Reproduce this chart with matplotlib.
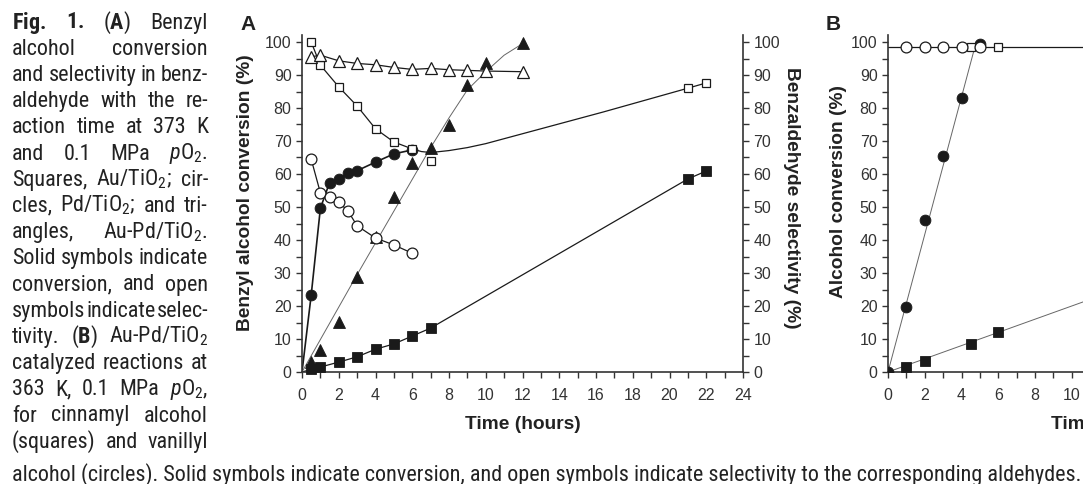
import matplotlib
matplotlib.use('Agg')
import matplotlib.pyplot as plt
from matplotlib import font_manager as fm
from matplotlib.ticker import MultipleLocator

# --- Painel A: álcool benzílico a 373 K ---
# Au/TiO2 (quadrados)
au_t = [0, 0.5, 1, 2, 3, 4, 5, 6, 7, 21, 22]
au_conv = [0, 0.8, 1.5, 3.0, 4.6, 6.9, 8.5, 10.9, 13.3, 58.5, 60.9]
au_sel_t = [0.5, 1, 2, 3, 4, 5, 6, 7, 21, 22]
au_sel = [100, 93, 86.4, 80.6, 73.7, 69.7, 67.6, 64.0, 86.0, 87.6]
# linha de tendência da seletividade Au
au_fit_t = [0.5, 1, 2, 3, 4, 5, 6, 6.5, 7, 8, 9, 10, 12, 16.4, 21, 22]
au_fit = [100, 93, 86.4, 80.6, 73.7, 69.7, 67.6, 66.8, 66.5, 67.1, 68.0, 69.2, 72.2, 78.8, 86.0, 87.6]

# Pd/TiO2 (círculos)
pd_t = [0, 0.5, 1, 1.5, 2, 2.5, 3, 4, 5, 6]
pd_conv = [0, 23.3, 49.6, 57.4, 58.5, 60.2, 61.0, 63.6, 66.1, 67.3]
pd_sel_t = [0.5, 1, 1.5, 2, 2.5, 3, 4, 5, 6]
pd_sel = [64.5, 54.3, 53.0, 51.5, 48.8, 44.3, 40.6, 38.5, 36.0]

# Au-Pd/TiO2 (triângulos)
aupd_t = [0.5, 1, 2, 3, 4, 5, 6, 7, 8, 9, 10, 12]
aupd_conv = [3.0, 6.7, 15.2, 28.8, 41.0, 53.0, 63.3, 67.8, 74.8, 87.0, 93.5, 99.8]
aupd_sel = [95.5, 96.0, 94.3, 93.5, 93.1, 92.3, 91.7, 92.0, 91.6, 91.4, 91.2, 91.0]
aupd_fit_t = [0, 3, 7, 8, 9, 10, 11, 12]
aupd_fit = [0, 29.5, 68, 77, 85.5, 91, 96, 99.5]

# --- Painel B: Au-Pd/TiO2 a 363 K ---
cin_t = [1, 2, 4.5, 6]
cin_conv = [1.5, 3.3, 8.4, 12.0]
cin_sel_t = [4.5, 6]
cin_sel = [98.5, 98.5]
cin_fit_t = [0, 12]
cin_fit = [0, 24]
van_t = [0, 1, 2, 3, 4, 5]
van_conv = [0, 19.7, 46.0, 65.4, 83.0, 99.4]
van_sel_t = [1, 2, 3, 4, 5]
van_sel = [98.5, 98.5, 98.5, 98.5, 98.5]
van_fit_t = [0, 4.8]
van_fit = [0, 100]
sel_fit_t = [0, 24]
sel_fit = [98.5, 98.5]

# --- Legenda (texto da figura) ---
col_lines = [
    [r'$\mathbf{Fig.}$', r'$\mathbf{1.}$', r'($\mathbf{A}$)', 'Benzyl'],
    'alcohol conversion',
    'and selectivity in benz-',
    'aldehyde with the re-',
    'action time at 373 K',
    r'and 0.1 MPa $\mathit{p}$O$_2$.',
    r'Squares, Au/TiO$_2$; cir-',
    r'cles, Pd/TiO$_2$; and tri-',
    r'angles, Au-Pd/TiO$_2$.',
    'Solid symbols indicate',
    'conversion, and open',
    'symbols indicate selec-',
    r'tivity. ($\mathbf{B}$) Au-Pd/TiO$_2$',
    'catalyzed reactions at',
    r'363 K, 0.1 MPa $\mathit{p}$O$_2$,',
    'for cinnamyl alcohol',
    '(squares) and vanillyl',
]
last_line = ('alcohol (circles). Solid symbols indicate conversion, and open '
             'symbols indicate selectivity to the corresponding aldehydes.')


def has_font(name):
    try:
        fm.findfont(fm.FontProperties(family=name), fallback_to_default=False)
        return True
    except Exception:
        return False


def pick(names):
    for n in names:
        if has_font(n):
            return n
    return 'DejaVu Sans'


CAP = pick(['Liberation Sans Narrow', 'Roboto Condensed', 'Open Sans Condensed',
            'Noto Sans Condensed', 'Lato'])
AXF = pick(['Liberation Sans'])
plt.rcParams['mathtext.fontset'] = 'custom'
plt.rcParams['mathtext.rm'] = CAP
plt.rcParams['mathtext.it'] = CAP + ':italic'
plt.rcParams['mathtext.bf'] = CAP + ':bold'
plt.rcParams['font.family'] = AXF

W, H = 1083, 484
fig = plt.figure(figsize=(W / 100, H / 100), dpi=100)


def fx(x):
    return x / W


def fy(y):
    return 1 - y / H


INK = '#222222'
AXC = '#333333'
YMAX = 102
TICK_FS = 11.5
LAB_FS = 13.8


def style_axes(ax):
    ax.set_xlim(0, 24)
    ax.set_ylim(0, YMAX)
    ax.xaxis.set_major_locator(MultipleLocator(2))
    ax.xaxis.set_minor_locator(MultipleLocator(1))
    ax.yaxis.set_minor_locator(MultipleLocator(5))
    ax.set_yticks(range(0, 101, 10))
    ax.tick_params(which='both', direction='out', length=4.5, width=1.0,
                   colors=AXC, labelsize=TICK_FS, labelcolor=AXC)
    ax.tick_params(axis='x', pad=7)
    ax.tick_params(axis='y', pad=3)
    for s in ('top', 'right'):
        ax.spines[s].set_visible(False)
    for s in ('left', 'bottom'):
        ax.spines[s].set_linewidth(1.2)
        ax.spines[s].set_color(AXC)
    ax.patch.set_alpha(0)


BLK = '#1a1a1a'
open_kw = dict(mfc='white', mec=BLK, mew=0.9, clip_on=False, zorder=5)
fill_kw = dict(mfc=BLK, mec=BLK, mew=0.6, clip_on=False, zorder=4)

# --- Painel A ---
axA = fig.add_axes([fx(302), fy(372), 441 / W, YMAX * 3.3 / H])
style_axes(axA)
axA2 = axA.twinx()
axA2.set_ylim(0, YMAX)
axA2.set_yticks(range(0, 101, 10))
axA2.yaxis.set_minor_locator(MultipleLocator(5))
axA2.tick_params(which='both', direction='out', length=4.5, width=1.0,
                 colors=AXC, labelsize=TICK_FS, labelcolor=AXC, pad=3)
for s in ('top', 'left', 'bottom'):
    axA2.spines[s].set_visible(False)
axA2.spines['right'].set_linewidth(1.2)
axA2.spines['right'].set_color(AXC)

# linhas de conversão
axA.plot(au_t, au_conv, '-', color=BLK, lw=0.9, zorder=2)
axA.plot(au_t, au_conv, 's', ms=6.5, markevery=slice(1, None), **fill_kw)
axA.plot(pd_t, pd_conv, '-', color=BLK, lw=1.2, zorder=2)
axA.plot(pd_t, pd_conv, 'o', ms=7.8, markevery=slice(1, None), **fill_kw)
axA.plot(aupd_fit_t, aupd_fit, '-', color='#666666', lw=0.7, zorder=2)
axA.plot(aupd_t, aupd_conv, '^', ms=8.5, **fill_kw)

# seletividade (eixo direito)
axA2.plot(au_fit_t, au_fit, '-', color=BLK, lw=0.9, zorder=2)
axA2.plot(au_sel_t, au_sel, 's', ms=5.6, **open_kw)
axA2.plot(pd_sel_t, pd_sel, '-', color=BLK, lw=0.9, zorder=2)
axA2.plot(pd_sel_t, pd_sel, 'o', ms=7.8, **open_kw)
axA2.plot(aupd_t, aupd_sel, '-', color=BLK, lw=0.9, zorder=2)
axA2.plot(aupd_t, aupd_sel, '^', ms=8.5, **open_kw)

axA.set_xlabel('Time (hours)', fontsize=LAB_FS, fontweight='bold', color=INK)
axA.xaxis.set_label_coords(0.5, -0.155)
axA.xaxis.label.set_va('center')
axA.set_ylabel('Benzyl alcohol conversion (%)', fontsize=LAB_FS, fontweight='bold', color=INK)
axA.yaxis.set_label_coords(-0.129, 0.532)
axA.yaxis.label.set_va('center')
axA2.set_ylabel('Benzaldehyde selectivity (%)', fontsize=LAB_FS, fontweight='bold',
                color=INK, rotation=-90)
axA2.yaxis.set_label_coords(1.111, 0.518)
axA2.yaxis.label.set_va('center')

# --- Painel B (cortado na borda direita) ---
axB = fig.add_axes([fx(888), fy(372), 441 / W, YMAX * 3.3 / H])
style_axes(axB)
axB.plot(sel_fit_t, sel_fit, '-', color=BLK, lw=0.9, zorder=2)
axB.plot(cin_fit_t, cin_fit, '-', color='#666666', lw=0.7, zorder=2)
axB.plot(van_fit_t, van_fit, '-', color='#666666', lw=0.7, zorder=2)
axB.plot(cin_t, cin_conv, 's', ms=6.5, **fill_kw)
axB.plot(van_t, van_conv, 'o', ms=7.8, mfc=BLK, mec=BLK, mew=0.6, zorder=4)
axB.plot(cin_sel_t, cin_sel, 's', ms=5.6, **open_kw)
axB.plot(van_sel_t, van_sel, 'o', ms=7.8, **open_kw)
axB.set_xlabel('Time (hours)', fontsize=LAB_FS, fontweight='bold', color=INK)
axB.xaxis.set_label_coords(0.5, -0.155)
axB.xaxis.label.set_va('center')
axB.set_ylabel('Alcohol conversion (%)', fontsize=LAB_FS, fontweight='bold', color=INK)
axB.yaxis.set_label_coords(-0.113, 0.535)
axB.yaxis.label.set_va('center')

fig.text(fx(240), fy(30), 'A', fontsize=15, fontweight='bold', color=INK, va='baseline')
fig.text(fx(826), fy(30), 'B', fontsize=15, fontweight='bold', color=INK, va='baseline')

# --- Legenda justificada ---
renderer = fig.canvas.get_renderer()
probe = fig.text(0, 0, last_line, fontsize=10, family=CAP)
cap_size = 10 * 1064 / probe.get_window_extent(renderer).width
probe.remove()


def put_line(words, x0, x1, ybase):
    if isinstance(words, str):
        words = words.split(' ')
    texts = [fig.text(0, fy(ybase), w, fontsize=cap_size, family=CAP,
                      color=INK, va='baseline') for w in words]
    widths = [t.get_window_extent(renderer).width for t in texts]
    gap = (x1 - x0 - sum(widths)) / max(len(words) - 1, 1)
    x = x0
    for t, w in zip(texts, widths):
        t.set_x(fx(x))
        x += w + gap


for k, line in enumerate(col_lines):
    put_line(line, 12, 208, 28.5 + 26.2 * k)
fig.text(fx(12), fy(481), last_line, fontsize=cap_size, family=CAP,
         color=INK, va='baseline')

plt.savefig('out.png', dpi=100)
plt.close()
